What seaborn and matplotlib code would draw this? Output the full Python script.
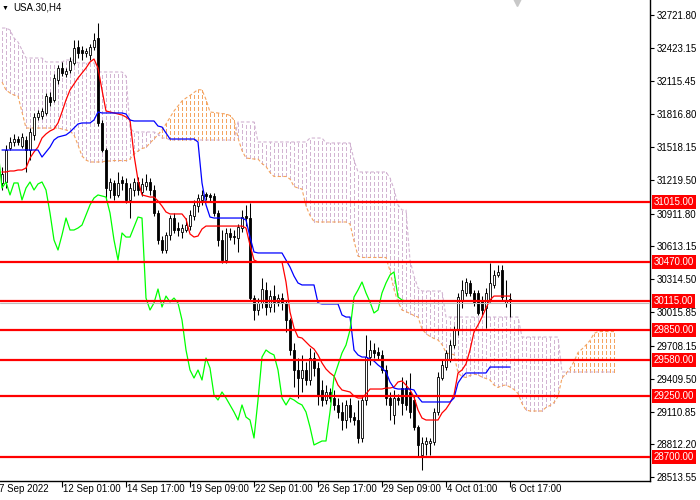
import numpy as np
import pandas as pd
import matplotlib
matplotlib.use("Agg")
import matplotlib.pyplot as plt
import seaborn as sns

# ---------------- data ----------------
symbol_title = "USA.30,H4"

opens = [31191, 31200, 31509, 31564, 31591, 31527, 31582, 31491, 31628, 31791,
         31800, 31828, 31973, 31946, 32128, 32237, 32183, 32219, 32283, 32428,
         32401, 32374, 32356, 32428, 32510, 31737, 31491, 31127, 31191, 31082,
         31218, 31191, 31036, 31127, 31200, 31109, 31163, 31200, 31127, 30918,
         30672, 30581, 30718, 30872, 30781, 30745, 30763, 30799, 30890, 30981,
         31036, 31091, 31082, 31072, 30918, 30672, 30490, 30736, 30708, 30690,
         30781, 30890, 30872, 30144, 30035, 30099, 30217, 30062, 30162, 30108,
         30144, 30099, 29944, 29671, 29489, 29416, 29489, 29398, 29598, 29507,
         29307, 29216, 29289, 29234, 29171, 29107, 29034, 29171, 29061, 29034,
         28870, 29216, 29607, 29671, 29653, 29626, 29489, 29234, 29080, 29234,
         29325, 29325, 29289, 29216, 28970, 28716, 28816, 28825, 28834, 29107,
         29416, 29516, 29580, 29716, 29853, 30126, 30190, 30281, 30190, 30190,
         30126, 30053, 30126, 30263, 30354, 30399, 30099, 30135]

highs = [31336, 31536, 31609, 31637, 31618, 31646, 31618, 31691, 31828, 31855,
         31873, 32010, 32019, 32183, 32264, 32292, 32237, 32337, 32492, 32492,
         32437, 32419, 32456, 32556, 32647, 31764, 31509, 31236, 31218, 31291,
         31254, 31236, 31191, 31236, 31245, 31236, 31273, 31236, 31172, 30945,
         30708, 30745, 30900, 30918, 30836, 30818, 30872, 30945, 31036, 31091,
         31127, 31109, 31100, 31100, 30945, 30763, 30781, 30781, 30763, 30818,
         30945, 30991, 31009, 30172, 30144, 30326, 30290, 30217, 30263, 30181,
         30190, 30126, 29962, 29735, 29598, 29626, 29562, 29689, 29653, 29562,
         29398, 29352, 29325, 29307, 29234, 29198, 29216, 29234, 29107, 29216,
         29262, 29808, 29762, 29735, 29698, 29671, 29535, 29289, 29307, 29271,
         29425, 29398, 29462, 29262, 28988, 28879, 28879, 28870, 29143, 29471,
         29580, 29671, 29762, 29889, 30190, 30308, 30326, 30308, 30217, 30217,
         30162, 30235, 30463, 30399, 30445, 30445, 30308, 30190]

lows = [31127, 31145, 31491, 31527, 31536, 31509, 31291, 31400, 31582, 31764,
        31773, 31810, 31891, 31928, 32092, 32164, 32155, 32192, 32264, 32328,
        32310, 32337, 32310, 32401, 31709, 31473, 31036, 31054, 31036, 31063,
        31127, 31009, 30872, 31072, 31082, 31072, 31127, 31082, 30890, 30636,
        30554, 30554, 30672, 30736, 30708, 30690, 30745, 30763, 30854, 30927,
        30991, 31036, 31027, 30890, 30617, 30463, 30463, 30672, 30636, 30563,
        30745, 30799, 30126, 29944, 29990, 30053, 29990, 30017, 30017, 30072,
        30035, 29835, 29626, 29334, 29234, 29289, 29352, 29352, 29434, 29171,
        29161, 29180, 29198, 29125, 29052, 28943, 28961, 29016, 28988, 28825,
        28834, 29171, 29535, 29598, 29580, 29462, 29171, 29034, 28998, 29171,
        29080, 29125, 29052, 28943, 28697, 28579, 28716, 28716, 28807, 29080,
        29398, 29489, 29562, 29689, 29808, 30053, 30162, 30162, 30072, 29990,
        29990, 29871, 30108, 30235, 30335, 30126, 30062, 29971]

closes = [31273, 31491, 31564, 31591, 31564, 31609, 31491, 31655, 31791, 31828,
          31846, 31982, 31928, 32146, 32237, 32192, 32210, 32301, 32419, 32374,
          32374, 32392, 32428, 32492, 31737, 31491, 31145, 31200, 31082, 31191,
          31191, 31036, 31145, 31200, 31127, 31182, 31200, 31127, 30918, 30672,
          30581, 30718, 30872, 30763, 30763, 30781, 30808, 30900, 30991, 31054,
          31082, 31072, 31063, 30918, 30672, 30490, 30736, 30699, 30699, 30790,
          30881, 30872, 30144, 30035, 30099, 30226, 30062, 30162, 30108, 30144,
          30099, 29944, 29671, 29489, 29416, 29489, 29398, 29598, 29507, 29262,
          29216, 29289, 29234, 29171, 29107, 29034, 29171, 29061, 29034, 28870,
          29216, 29607, 29671, 29644, 29626, 29489, 29234, 29171, 29234, 29216,
          29189, 29171, 29107, 28970, 28807, 28825, 28843, 28843, 29107, 29425,
          29535, 29644, 29716, 29853, 30153, 30217, 30290, 30190, 30108, 30008,
          30035, 30190, 30281, 30354, 30381, 30153, 30126, 30117]

tenkan = [31291, 31291, 31300, 31300, 31309, 31309, 31327, 31418, 31473, 31518,
          31600, 31637, 31664, 31682, 31737, 31837, 31946, 32037, 32092, 32146,
          32192, 32237, 32292, 32319, 32237, 32037, 31846, 31837, 31828, 31819,
          31810, 31791, 31764, 31446, 31218, 31082, 31072, 31063, 31063, 31027,
          30981, 30927, 30909, 30909, 30909, 30909, 30863, 30727, 30699, 30708,
          30772, 30799, 30799, 30799, 30799, 30799, 30799, 30799, 30799, 30799,
          30799, 30781, 30626, 30490, 30472, 30472, 30472, 30472, 30472, 30472,
          30472, 30290, 30017, 29871, 29789, 29780, 29744, 29707, 29680, 29626,
          29553, 29498, 29462, 29434, 29352, 29307, 29298, 29289, 29252, 29234,
          29234, 29271, 29316, 29316, 29316, 29316, 29325, 29325, 29334, 29380,
          29389, 29352, 29307, 29243, 29125, 29052, 29034, 29034, 29034, 29034,
          29098, 29134, 29189, 29262, 29462, 29489, 29544, 29671, 29835, 29898,
          29971, 30053, 30126, 30162, 30162, 30162, 30162, 30162]

kijun = [31491, 31491, 31491, 31491, 31491, 31491, 31491, 31491, 31491, 31491,
         31427, 31473, 31518, 31582, 31609, 31618, 31628, 31655, 31691, 31728,
         31737, 31737, 31737, 31764, 31837, 31828, 31828, 31828, 31828, 31828,
         31828, 31819, 31764, 31755, 31755, 31755, 31755, 31755, 31755, 31709,
         31700, 31646, 31591, 31591, 31591, 31591, 31591, 31591, 31591, 31564,
         31191, 30991, 30881, 30872, 30872, 30872, 30872, 30872, 30872, 30872,
         30872, 30854, 30699, 30563, 30554, 30554, 30554, 30554, 30554, 30554,
         30554, 30490, 30426, 30344, 30281, 30263, 30263, 30263, 30263, 30099,
         30090, 30090, 30090, 30090, 30090, 29990, 29971, 29971, 29671, 29626,
         29607, 29607, 29589, 29571, 29535, 29507, 29471, 29380, 29325, 29316,
         29316, 29316, 29316, 29307, 29243, 29198, 29198, 29198, 29198, 29198,
         29198, 29198, 29198, 29234, 29371, 29425, 29462, 29462, 29462, 29462,
         29462, 29462, 29516, 29516, 29516, 29516, 29516, 29516]

span_a = [32110, 32037, 32010, 31991, 31982, 31837, 31691, 31691, 31691, 31691,
          31691, 31691, 31691, 31691, 31691, 31682, 31673, 31664, 31628, 31536,
          31436, 31400, 31382, 31382, 31382, 31382, 31391, 31391, 31395, 31395,
          31395, 31395, 31409, 31455, 31482, 31505, 31514, 31555, 31591, 31632,
          31673, 31728, 31787, 31846, 31891, 31937, 31964, 31987, 32014, 32041,
          32037, 31951, 31837, 31832, 31828, 31823, 31819, 31805, 31764, 31600,
          31486, 31418, 31414, 31409, 31409, 31368, 31341, 31286, 31250, 31250,
          31250, 31250, 31227, 31159, 31145, 31136, 30981, 30895, 30840, 30836,
          30836, 30836, 30836, 30836, 30836, 30836, 30836, 30818, 30663, 30526,
          30513, 30513, 30513, 30513, 30513, 30513, 30513, 30390, 30222, 30108,
          30035, 30021, 30003, 29985, 29971, 29862, 29821, 29794, 29776, 29762,
          29721, 29648, 29635, 29630, 29462, 29430, 29421, 29439, 29453, 29444,
          29425, 29412, 29398, 29352, 29330, 29348, 29352, 29334, 29312, 29275,
          29184, 29125, 29116, 29116, 29116, 29116, 29148, 29166, 29193, 29248,
          29416, 29457, 29503, 29566, 29648, 29680, 29716, 29757, 29821, 29839,
          29839, 29839, 29839, 29839]

span_b = [32601, 32601, 32583, 32510, 32474, 32401, 32328, 32328, 32328, 32328,
          32328, 32292, 32292, 32292, 32292, 32292, 32310, 32310, 32310, 32283,
          32283, 32283, 32283, 32283, 32201, 32201, 32201, 32201, 32201, 32201,
          32201, 32164, 31691, 31655, 31655, 31655, 31655, 31655, 31655, 31637,
          31600, 31600, 31582, 31582, 31582, 31582, 31582, 31582, 31582, 31582,
          31582, 31582, 31582, 31582, 31582, 31582, 31582, 31582, 31582, 31746,
          31746, 31746, 31746, 31746, 31564, 31564, 31564, 31564, 31564, 31564,
          31564, 31564, 31564, 31564, 31564, 31564, 31564, 31600, 31600, 31600,
          31600, 31555, 31555, 31555, 31555, 31555, 31555, 31555, 31400, 31291,
          31291, 31291, 31291, 31291, 31291, 31291, 31291, 31236, 31136, 30991,
          30945, 30945, 30490, 30344, 30235, 30208, 30208, 30208, 30208, 30208,
          30208, 29971, 29971, 29971, 29971, 29971, 29971, 29971, 29971, 29971,
          29971, 29971, 29971, 29971, 29971, 29971, 29971, 29971, 29971, 29971,
          29789, 29789, 29789, 29789, 29789, 29789, 29789, 29789, 29789, 29789,
          29471, 29471, 29471, 29471, 29471, 29471, 29471, 29471, 29471, 29471,
          29471, 29471, 29471, 29471]

chikou_shift = 26
level_prices = [31015.00, 30470.00, 30115.00, 29850.00, 29580.00, 29250.00, 28700.00]
bid_price = 30100
y_ticks = [32721.80, 32423.15, 32115.45, 31816.80, 31518.15, 31219.50, 30911.80,
           30613.15, 30314.50, 30015.85, 29708.15, 29409.50, 29110.85, 28812.20, 28513.55]
x_tick_bars = [-1, 15, 31, 47, 63, 79, 95, 111, 127]
x_tick_labels = ["7 Sep 2022", "12 Sep 01:00", "14 Sep 17:00", "19 Sep 09:00",
                 "22 Sep 01:00", "26 Sep 17:00", "29 Sep 09:00", "4 Oct 01:00", "6 Oct 17:00"]

# ---------------- styling ----------------
sns.set_theme(style="white")
plt.rcParams["font.family"] = ["Liberation Sans", "DejaVu Sans"]
plt.rcParams["text.color"] = "black"
plt.rcParams["xtick.color"] = "black"
plt.rcParams["ytick.color"] = "black"
plt.rcParams["axes.edgecolor"] = "black"

UP_KUMO = "#F4A460"     # sandy brown
DOWN_KUMO = "#D2B4D2"   # thistle

fig = plt.figure(figsize=(7, 5), dpi=100)
fig.patch.set_facecolor("white")
ax = fig.add_axes([0, 19 / 500, 650 / 700, 481 / 500])
ax.set_facecolor("white")
ax.grid(False)

n = len(closes)
bars = np.arange(n)
o = np.array(opens, float)
h = np.array(highs, float)
l = np.array(lows, float)
c = np.array(closes, float)

# ---- Ichimoku cloud (dotted histogram) ----
m = len(span_a)
cb = np.arange(m)
sa = np.array(span_a, float)
sb = np.array(span_b, float)
up = sa >= sb
dash = (0, (3.0, 2.0))
ax.vlines(cb[up], sb[up], sa[up], colors=UP_KUMO, linestyles=[dash], linewidth=0.75,
          antialiased=False, zorder=1)
ax.vlines(cb[~up], sa[~up], sb[~up], colors=DOWN_KUMO, linestyles=[dash], linewidth=0.75,
          antialiased=False, zorder=1)
ax.plot(cb, sa, color=UP_KUMO, linestyle=(0, (3.0, 2.0)), linewidth=0.8, zorder=1.5)
ax.plot(cb, sb, color=DOWN_KUMO, linestyle=(0, (3.0, 2.0)), linewidth=0.8, zorder=1.5)

# ---- candles ----
bull = c >= o
ax.vlines(bars, l, h, color="black", linewidth=0.75, zorder=3)
body_lo = np.minimum(o, c)
body_h = np.maximum(np.abs(c - o), 6)
ax.bar(bars[bull], body_h[bull], bottom=body_lo[bull], width=0.72,
       facecolor="white", edgecolor="black", linewidth=0.6, zorder=4)
ax.bar(bars[~bull], body_h[~bull], bottom=body_lo[~bull], width=0.72,
       facecolor="black", edgecolor="black", linewidth=0.6, zorder=4)

# ---- Ichimoku lines ----
sns.lineplot(x=bars, y=tenkan, ax=ax, color="#FF0000", linewidth=0.9, estimator=None, zorder=5)
sns.lineplot(x=bars, y=kijun, ax=ax, color="#0000FF", linewidth=0.9, estimator=None, zorder=5)
sns.lineplot(x=bars - chikou_shift, y=closes, ax=ax, color="#00FF00", linewidth=0.9,
             estimator=None, zorder=5)

# ---- bid line and levels ----
ax.axhline(bid_price, color="#BDBDBD", linewidth=0.8, zorder=6)
for p in level_prices:
    ax.axhline(p, color="#FF0000", linewidth=1.6, zorder=7)

ax.set_xlim(-0.5, 162)
ax.set_ylim(28479, 32856)

# ---- spines / axes ----
ax.spines["left"].set_visible(False)
ax.spines["top"].set_visible(False)
ax.spines["right"].set_linewidth(1.0)
ax.spines["bottom"].set_linewidth(1.0)

ax.yaxis.tick_right()
ax.set_yticks(y_ticks)
ax.set_yticklabels([f"{v:.2f}" for v in y_ticks], fontsize=7)
ax.tick_params(axis="y", which="both", direction="out", length=3, width=0.8, pad=1.5,
               right=True, left=False)

ax.set_xticks(x_tick_bars[1:])
ax.set_xticklabels([])
ax.tick_params(axis="x", direction="out", length=4, width=0.8, bottom=True)
ax.set_xlabel("")
ax.set_ylabel("")

xt = ax.get_xaxis_transform()
for b, lab in zip(x_tick_bars, x_tick_labels):
    ax.text(b + 0.3, -8 / 481, lab, transform=xt, ha="left", va="center",
            fontsize=7, color="black", clip_on=False)

yt = ax.get_yaxis_transform()
for p in level_prices:
    ax.text(1.006, p, f"{p:.2f}", transform=yt, ha="left", va="center", color="white",
            fontsize=7, zorder=10, clip_on=False,
            bbox=dict(boxstyle="square,pad=0.2", fc="#FF0000", ec="none"))

# title and chart-shift marker
fig.text(2 / 700, 1 - 8 / 500, "\u25BC", fontsize=5, va="center", ha="left", color="black")
fig.text(13 / 700, 1 - 8 / 500, symbol_title, fontsize=7, va="center", ha="left", color="black")
ax.plot([517 / 650], [1.0], marker="v", markersize=9, color="#C8C8C8",
        transform=ax.transAxes, clip_on=False, zorder=12)

fig.savefig("out.png", dpi=100)
